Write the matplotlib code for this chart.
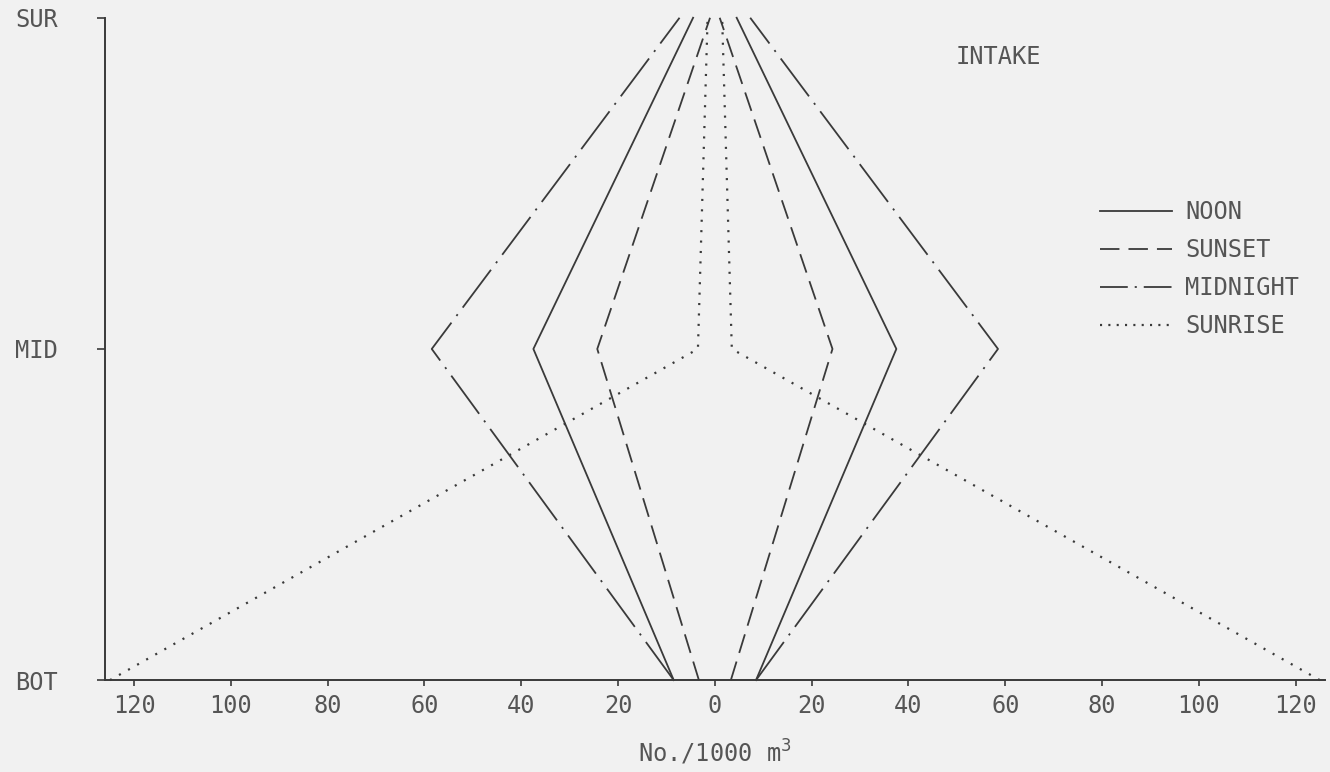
#Kite diagram, intake: density by depth at four times of day
import numpy as np
import matplotlib.pyplot as plt
from matplotlib.lines import Line2D

plt.rcParams['font.family'] = ['DejaVu Sans Mono', 'DejaVu Sans']
plt.rcParams['lines.scale_dashes'] = False

depth = [0, 1, 2]                    # BOT, MID, SUR
depth_labels = ['BOT', 'MID', 'SUR']

# half widths, No./1000 m3
noon = [8.5, 37.5, 4.5]
sunset = [3.3, 24.3, 1.0]
midnight = [8.5, 58.5, 7.3]
sunrise = [125, 3.5, 1.5]

xticks = [-120, -100, -80, -60, -40, -20, 0, 20, 40, 60, 80, 100, 120]

ink = '#3a3a3a'
txt = '#555555'
fs = 17

fig = plt.figure(figsize=(13.3, 7.72), dpi=100, facecolor='#f1f1f1')
ax = fig.add_axes([0.079, 0.119, 0.917, 0.858])
ax.set_facecolor('#f1f1f1')

# (values, name, line style, legend style, width)
styles = [(noon, 'NOON', '-', '-', 1.3),
          (sunset, 'SUNSET', (0, (14, 6.5)), (0, (14, 6.5)), 1.3),
          (midnight, 'MIDNIGHT', (0, (34, 6, 1.5, 6)), (0, (20, 5, 1.5, 5)), 1.3),
          (sunrise, 'SUNRISE', (0, (1.5, 6)), (0, (1.5, 4.5)), 1.6)]

handles = []
for vals, name, ls, lls, lw in styles:
    v = np.array(vals)
    ax.plot(-v, depth, color=ink, lw=lw, ls=ls, clip_on=False)
    ax.plot(v, depth, color=ink, lw=lw, ls=ls, clip_on=False)
    handles.append(Line2D([], [], color=ink, lw=lw, ls=lls, label=name))

ax.set_xlim(-126, 126)
ax.set_ylim(0, 2)
ax.spines['top'].set_visible(False)
ax.spines['right'].set_visible(False)
for s in ['left', 'bottom']:
    ax.spines[s].set_color(ink)
    ax.spines[s].set_linewidth(1.4)

ax.set_xticks(xticks)
ax.set_xticklabels([str(abs(t)) for t in xticks])
ax.set_yticks(depth)
ax.set_yticklabels(depth_labels)
ax.tick_params(axis='x', direction='out', length=4, width=1.2, color=ink,
               labelsize=fs, labelcolor=txt, pad=6)
ax.tick_params(axis='y', direction='out', length=6, width=1.2, color=ink,
               labelsize=fs, labelcolor=txt, pad=28)

ax.set_xlabel('No./1000 m$^3$', fontsize=fs, color=txt, labelpad=14)

ax.text(0.697, 0.94, 'INTAKE', transform=ax.transAxes, fontsize=fs,
        color=txt, va='center', ha='left')

leg = ax.legend(handles=handles, loc='upper left', bbox_to_anchor=(0.816, 0.725),
                frameon=False, fontsize=fs, handlelength=3.05, handletextpad=0.55,
                labelspacing=0.6, borderpad=0, borderaxespad=0)
for t in leg.get_texts():
    t.set_color(txt)

plt.savefig('out.png', dpi=100, facecolor=fig.get_facecolor())
